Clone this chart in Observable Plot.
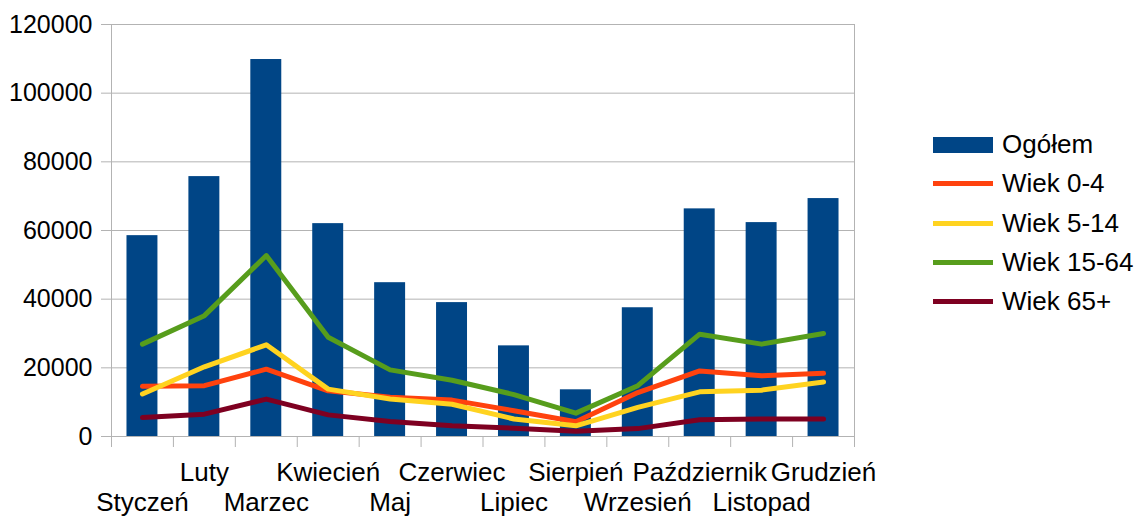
<!DOCTYPE html>
<html><head><meta charset="utf-8">
<script src="https://cdn.jsdelivr.net/npm/d3@7"></script>
<script src="https://cdn.jsdelivr.net/npm/@observablehq/plot@0.6"></script>
<style>
body{margin:0;background:#fff;font-family:"Liberation Sans",Arial,sans-serif;}
#wrap{position:relative;width:1136px;height:517px;}
#legend{position:absolute;left:933px;top:125px;}
.row{display:flex;align-items:center;height:39.3px;font-size:26px;color:#000;}
.sw{width:60px;margin-right:9px;}
</style>
</head><body><div id="wrap"><div id="legend"></div></div>
<script>
const months = ["Styczeń","Luty","Marzec","Kwiecień","Maj","Czerwiec","Lipiec","Sierpień","Wrzesień","Październik","Listopad","Grudzień"];
const ogolem  = [58500, 75700, 109800, 62000, 44800, 39000, 26400, 13600, 37500, 66300, 62300, 69300];
const wiek0_4 = [14600, 14800, 19600, 13300, 11400, 10600, 7500, 4300, 12800, 19100, 17700, 18400];
const wiek5_14 = [12400, 20300, 26700, 13800, 10900, 9400, 5100, 3100, 8500, 13000, 13500, 15900];
const wiek15_64 = [26900, 35200, 52700, 28900, 19400, 16400, 12200, 6800, 14800, 29800, 26900, 30000];
const wiek65 = [5500, 6500, 10900, 6300, 4400, 3100, 2400, 1500, 2300, 4900, 5100, 5100];
const yTicks = [0, 20000, 40000, 60000, 80000, 100000, 120000];

const seriesNames = ["Ogółem","Wiek 0-4","Wiek 5-14","Wiek 15-64","Wiek 65+"];
const seriesColors = ["#004586","#ff420e","#ffd320","#579d1c","#7e0021"];

const bars = months.map((m, i) => ({i, month: m, value: ogolem[i]}));
const lineSeries = [wiek0_4, wiek5_14, wiek15_64, wiek65].map((vals, k) =>
  vals.map((v, i) => ({i, month: months[i], value: v, series: seriesNames[k + 1]})));
const labels = months.map((m, i) => ({i, month: m}));

const font = '"Liberation Sans", Arial, sans-serif';
const chart = Plot.plot({
  width: 1136, height: 517,
  marginLeft: 111, marginRight: 282, marginTop: 24, marginBottom: 81,
  style: {fontFamily: font, fontSize: "25px", background: "#fff", color: "#000"},
  x: {type: "linear", domain: [0, 12], axis: null},
  y: {domain: [0, 120000], axis: null},
  marks: [
    Plot.gridY(yTicks, {stroke: "#b3b3b3", strokeOpacity: 1, strokeWidth: 1}),
    Plot.ruleX([0, 12], {stroke: "#b3b3b3"}),
    Plot.axisY(yTicks, {tickSize: 10, tickPadding: 9, stroke: "#b3b3b3", fill: "#000", fontSize: 25, tickFormat: d => String(d), label: null}),
    Plot.axisX(d3.range(13), {tickSize: 11, stroke: "#b3b3b3", tickFormat: () => "", label: null}),
    Plot.rectY(bars, {x1: d => d.i + 0.25, x2: d => d.i + 0.75, y1: 0, y2: "value", fill: seriesColors[0]}),
    ...lineSeries.map((s, k) => Plot.lineY(s, {x: d => d.i + 0.5, y: "value", stroke: seriesColors[k + 1], strokeWidth: 5, strokeLinejoin: "round"})),
    Plot.text(labels.filter(d => d.i % 2 === 1), {x: d => d.i + 0.5, frameAnchor: "bottom", text: "month", dy: 36, lineAnchor: "middle", fontSize: 26, fill: "#000"}),
    Plot.text(labels.filter(d => d.i % 2 === 0), {x: d => d.i + 0.5, frameAnchor: "bottom", text: "month", dy: 66, lineAnchor: "middle", fontSize: 26, fill: "#000"})
  ]
});
const wrap = document.getElementById("wrap");
wrap.insertBefore(chart, wrap.firstChild);

const legend = document.getElementById("legend");
seriesNames.forEach((name, k) => {
  const row = document.createElement("div");
  row.className = "row";
  const sw = document.createElement("div");
  sw.className = "sw";
  sw.style.background = seriesColors[k];
  sw.style.height = k === 0 ? "16px" : "5px";
  const t = document.createElement("span");
  t.textContent = name;
  row.appendChild(sw); row.appendChild(t);
  legend.appendChild(row);
});
</script>
</body></html>
